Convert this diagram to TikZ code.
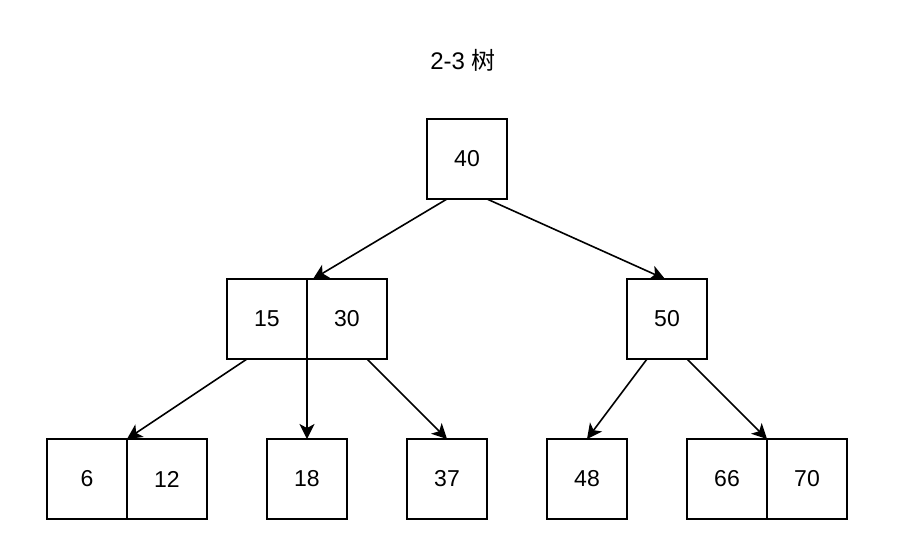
\documentclass[tikz,border=0pt]{standalone}
\usepackage{fontspec}
\setmainfont{Liberation Sans}
\newfontfamily\cjk{Noto Sans CJK SC}
\usetikzlibrary{arrows.meta,calc}
\begin{document}
\begin{tikzpicture}[x=1pt,y=-1pt,
  box/.style={draw, line width=1.6pt, minimum width=80pt, minimum height=80pt, inner sep=0pt, outer sep=0pt, font=\fontsize{23}{26}\selectfont},
  link/.style={line width=1.6pt, -{Stealth[length=15pt,width=15pt,inset=4pt]}},
  titletext/.style={font=\fontsize{24}{27}\selectfont}]
\useasboundingbox (0,0) rectangle (924,550);
\node[titletext] (title) at (463,60) {2-3 {\cjk 树}};
\node[box] (n40) at (467,159) {\raisebox{-1.5pt}{40}};
\node[box] (n15) at (267,319) {\raisebox{-1.5pt}{15}};
\node[box] (n30) at (347,319) {\raisebox{-1.5pt}{30}};
\node[box] (n50) at (667,319) {\raisebox{-1.5pt}{50}};
\node[box] (n6) at (87,479) {\raisebox{-1.5pt}{6}};
\node[box] (n12) at (167,479) {\raisebox{-1.5pt}{12}};
\node[box] (n18) at (307,479) {\raisebox{-1.5pt}{18}};
\node[box] (n37) at (447,479) {\raisebox{-1.5pt}{37}};
\node[box] (n48) at (587,479) {\raisebox{-1.5pt}{48}};
\node[box] (n66) at (727,479) {\raisebox{-1.5pt}{66}};
\node[box] (n70) at (807,479) {\raisebox{-1.5pt}{70}};
\draw[link] ($(n40.south)+(-20,0)$) -- ($(n15.north east)+(6,0)$);
\draw[link] ($(n40.south)+(20,0)$) -- ($(n50.north)+(-2,0)$);
\draw[link] ($(n15.south)+(-20,0)$) -- (n6.north east);
\draw[link] (n15.south east) -- (n18.north);
\draw[link] ($(n30.south)+(20,0)$) -- (n37.north);
\draw[link] ($(n50.south)+(-20,0)$) -- (n48.north);
\draw[link] ($(n50.south)+(20,0)$) -- (n66.north east);
\end{tikzpicture}
\end{document}
